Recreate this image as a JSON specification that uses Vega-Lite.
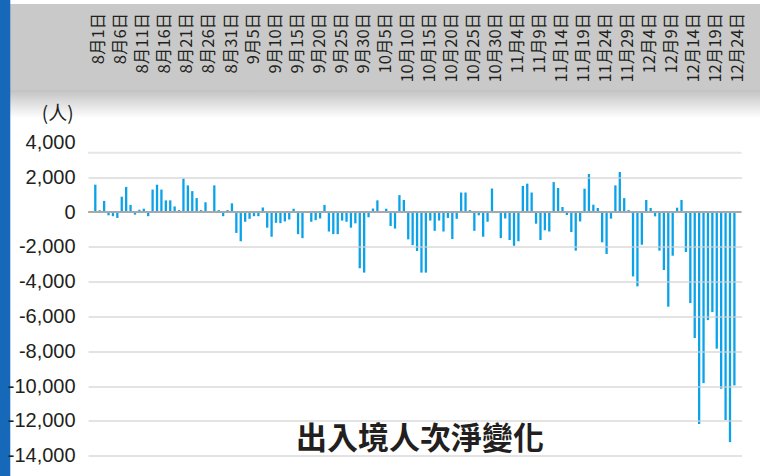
{
  "$schema": "https://vega.github.io/schema/vega-lite/v6.json",
  "autosize": {"type": "none"},
  "padding": {"left": 88.1, "top": 142.4, "right": 18.4, "bottom": 20.3},
  "width": 653.5,
  "height": 313.3,
  "background": "#ffffff",
  "config": {
    "view": {"stroke": null},
    "axis": {"labelOverlap": false, "labelBound": false, "labelFlush": false}
  },
  "layer": [
    {
      "data": {"values": [
        {"d": "2020-08-01", "v": 1570}, {"d": "2020-08-02", "v": 100}, {"d": "2020-08-03", "v": 640}, {"d": "2020-08-04", "v": -190}, {"d": "2020-08-05", "v": -240}, {"d": "2020-08-06", "v": -340}, {"d": "2020-08-07", "v": 880}, {"d": "2020-08-08", "v": 1440}, {"d": "2020-08-09", "v": 410}, {"d": "2020-08-10", "v": -150},
        {"d": "2020-08-11", "v": 130}, {"d": "2020-08-12", "v": 190}, {"d": "2020-08-13", "v": -240}, {"d": "2020-08-14", "v": 1290}, {"d": "2020-08-15", "v": 1570}, {"d": "2020-08-16", "v": 1290}, {"d": "2020-08-17", "v": 670}, {"d": "2020-08-18", "v": 670}, {"d": "2020-08-19", "v": 320}, {"d": "2020-08-20", "v": 110},
        {"d": "2020-08-21", "v": 1925}, {"d": "2020-08-22", "v": 1530}, {"d": "2020-08-23", "v": 1200}, {"d": "2020-08-24", "v": 800}, {"d": "2020-08-25", "v": 110}, {"d": "2020-08-26", "v": 560}, {"d": "2020-08-27", "v": -30}, {"d": "2020-08-28", "v": 1530}, {"d": "2020-08-29", "v": 110}, {"d": "2020-08-30", "v": -240},
        {"d": "2020-08-31", "v": 110},
        {"d": "2020-09-01", "v": 500}, {"d": "2020-09-02", "v": -1200}, {"d": "2020-09-03", "v": -1680}, {"d": "2020-09-04", "v": -560}, {"d": "2020-09-05", "v": -390}, {"d": "2020-09-06", "v": -240}, {"d": "2020-09-07", "v": -240}, {"d": "2020-09-08", "v": 260}, {"d": "2020-09-09", "v": -900}, {"d": "2020-09-10", "v": -1420},
        {"d": "2020-09-11", "v": -620}, {"d": "2020-09-12", "v": -640}, {"d": "2020-09-13", "v": -540}, {"d": "2020-09-14", "v": -430}, {"d": "2020-09-15", "v": 190}, {"d": "2020-09-16", "v": -1270}, {"d": "2020-09-17", "v": -1500}, {"d": "2020-09-18", "v": -30}, {"d": "2020-09-19", "v": -560}, {"d": "2020-09-20", "v": -470},
        {"d": "2020-09-21", "v": -370}, {"d": "2020-09-22", "v": 410}, {"d": "2020-09-23", "v": -1120}, {"d": "2020-09-24", "v": -1270}, {"d": "2020-09-25", "v": -1270}, {"d": "2020-09-26", "v": -490}, {"d": "2020-09-27", "v": -560}, {"d": "2020-09-28", "v": -900}, {"d": "2020-09-29", "v": -650}, {"d": "2020-09-30", "v": -3230},
        {"d": "2020-10-01", "v": -3480}, {"d": "2020-10-02", "v": -300}, {"d": "2020-10-03", "v": 200}, {"d": "2020-10-04", "v": 670}, {"d": "2020-10-05", "v": 30}, {"d": "2020-10-06", "v": 190}, {"d": "2020-10-07", "v": -800}, {"d": "2020-10-08", "v": -950}, {"d": "2020-10-09", "v": 970}, {"d": "2020-10-10", "v": 690},
        {"d": "2020-10-11", "v": -1570}, {"d": "2020-10-12", "v": -1900}, {"d": "2020-10-13", "v": -2240}, {"d": "2020-10-14", "v": -3480}, {"d": "2020-10-15", "v": -3480}, {"d": "2020-10-16", "v": -490}, {"d": "2020-10-17", "v": -1080}, {"d": "2020-10-18", "v": -490}, {"d": "2020-10-19", "v": -1120}, {"d": "2020-10-20", "v": -340},
        {"d": "2020-10-21", "v": -1550}, {"d": "2020-10-22", "v": -390}, {"d": "2020-10-23", "v": 1120}, {"d": "2020-10-24", "v": 1120}, {"d": "2020-10-25", "v": 110}, {"d": "2020-10-26", "v": -1080}, {"d": "2020-10-27", "v": -190}, {"d": "2020-10-28", "v": -1420}, {"d": "2020-10-29", "v": -560}, {"d": "2020-10-30", "v": 1350},
        {"d": "2020-10-31", "v": -60},
        {"d": "2020-11-01", "v": -1500}, {"d": "2020-11-02", "v": -370}, {"d": "2020-11-03", "v": -1610}, {"d": "2020-11-04", "v": -1940}, {"d": "2020-11-05", "v": -1680}, {"d": "2020-11-06", "v": 1500}, {"d": "2020-11-07", "v": 1630}, {"d": "2020-11-08", "v": 1120}, {"d": "2020-11-09", "v": -670}, {"d": "2020-11-10", "v": -1610},
        {"d": "2020-11-11", "v": -1050}, {"d": "2020-11-12", "v": -1120}, {"d": "2020-11-13", "v": 1720}, {"d": "2020-11-14", "v": 1380}, {"d": "2020-11-15", "v": 290}, {"d": "2020-11-16", "v": -170}, {"d": "2020-11-17", "v": -1150}, {"d": "2020-11-18", "v": -2220}, {"d": "2020-11-19", "v": -540}, {"d": "2020-11-20", "v": 1340},
        {"d": "2020-11-21", "v": 2180}, {"d": "2020-11-22", "v": 420}, {"d": "2020-11-23", "v": 230}, {"d": "2020-11-24", "v": -1740}, {"d": "2020-11-25", "v": -2410}, {"d": "2020-11-26", "v": -380}, {"d": "2020-11-27", "v": 1530}, {"d": "2020-11-28", "v": 2300}, {"d": "2020-11-29", "v": 800}, {"d": "2020-11-30", "v": 110},
        {"d": "2020-12-01", "v": -3700}, {"d": "2020-12-02", "v": -4270}, {"d": "2020-12-03", "v": -1880}, {"d": "2020-12-04", "v": 690}, {"d": "2020-12-05", "v": 230}, {"d": "2020-12-06", "v": -250}, {"d": "2020-12-07", "v": -2220}, {"d": "2020-12-08", "v": -3330}, {"d": "2020-12-09", "v": -5440}, {"d": "2020-12-10", "v": -2510},
        {"d": "2020-12-11", "v": 250}, {"d": "2020-12-12", "v": 690}, {"d": "2020-12-13", "v": -2300}, {"d": "2020-12-14", "v": -5230}, {"d": "2020-12-15", "v": -7240}, {"d": "2020-12-16", "v": -12180}, {"d": "2020-12-17", "v": -9830}, {"d": "2020-12-18", "v": -6210}, {"d": "2020-12-19", "v": -5750}, {"d": "2020-12-20", "v": -7850},
        {"d": "2020-12-21", "v": -10150}, {"d": "2020-12-22", "v": -11950}, {"d": "2020-12-23", "v": -13220}, {"d": "2020-12-24", "v": -9960}
      ]},
      "mark": {"type": "bar", "width": 2.3, "color": "#0aa2e8"},
      "encoding": {
        "x": {
          "field": "d", "type": "temporal",
          "scale": {"type": "utc", "nice": false, "domain": [{"year": 2020, "month": 7, "date": 31, "hours": 12, "utc": true}, {"year": 2020, "month": 12, "date": 24, "hours": 12, "utc": true}]},
          "axis": {
            "orient": "top",
            "title": null,
            "tickCount": 200,
            "values": [
              {"year": 2020, "month": 8, "date": 1, "utc": true}, {"year": 2020, "month": 8, "date": 6, "utc": true}, {"year": 2020, "month": 8, "date": 11, "utc": true}, {"year": 2020, "month": 8, "date": 16, "utc": true}, {"year": 2020, "month": 8, "date": 21, "utc": true}, {"year": 2020, "month": 8, "date": 26, "utc": true}, {"year": 2020, "month": 8, "date": 31, "utc": true},
              {"year": 2020, "month": 9, "date": 5, "utc": true}, {"year": 2020, "month": 9, "date": 10, "utc": true}, {"year": 2020, "month": 9, "date": 15, "utc": true}, {"year": 2020, "month": 9, "date": 20, "utc": true}, {"year": 2020, "month": 9, "date": 25, "utc": true}, {"year": 2020, "month": 9, "date": 30, "utc": true},
              {"year": 2020, "month": 10, "date": 5, "utc": true}, {"year": 2020, "month": 10, "date": 10, "utc": true}, {"year": 2020, "month": 10, "date": 15, "utc": true}, {"year": 2020, "month": 10, "date": 20, "utc": true}, {"year": 2020, "month": 10, "date": 25, "utc": true}, {"year": 2020, "month": 10, "date": 30, "utc": true},
              {"year": 2020, "month": 11, "date": 4, "utc": true}, {"year": 2020, "month": 11, "date": 9, "utc": true}, {"year": 2020, "month": 11, "date": 14, "utc": true}, {"year": 2020, "month": 11, "date": 19, "utc": true}, {"year": 2020, "month": 11, "date": 24, "utc": true}, {"year": 2020, "month": 11, "date": 29, "utc": true},
              {"year": 2020, "month": 12, "date": 4, "utc": true}, {"year": 2020, "month": 12, "date": 9, "utc": true}, {"year": 2020, "month": 12, "date": 14, "utc": true}, {"year": 2020, "month": 12, "date": 19, "utc": true}, {"year": 2020, "month": 12, "date": 24, "utc": true}
            ],
            "labelExpr": "(utcmonth(datum.value) + 1) + '月' + utcdate(datum.value) + '日'",
            "labelAngle": 270,
            "labelAlign": "right",
            "labelBaseline": "middle",
            "labelPadding": 130,
            "labelOffset": 3.5,
            "labelFont": "Noto Sans CJK TC",
            "labelFontSize": 16.5,
            "labelColor": "#231f20",
            "labelOverlap": false,
            "ticks": false,
            "tickSize": 0,
            "domain": false,
            "grid": false,
            "zindex": 2
          }
        },
        "y": {
          "field": "v", "type": "quantitative",
          "scale": {"domain": [-14000, 4000], "nice": false},
          "axis": {
            "tickCount": 100,
            "values": [-14000, -12000, -10000, -8000, -6000, -4000, -2000, 0, 2000, 4000],
            "labelExpr": "replace(format(datum.value, ',.0f'), '−', '-')",
            "labelOverlap": false,
            "labelFont": "Liberation Sans",
            "labelFontSize": 20,
            "labelColor": "#231f20",
            "labelPadding": 13,
            "ticks": false,
            "tickSize": 0,
            "domain": false,
            "grid": true,
            "gridColor": "#d0d0d0",
            "gridWidth": 2,
            "gridOpacity": {"condition": {"test": "datum.value === 0 || datum.value === 4000", "value": 0}, "value": 0.6},
            "title": "(人)",
            "titleAngle": 0,
            "titleAlign": "right",
            "titleBaseline": "middle",
            "titleX": -15,
            "titleY": -29,
            "titleFont": "Noto Sans CJK TC",
            "titleFontSize": 19,
            "titleFontWeight": "normal",
            "titleColor": "#231f20",
            "zindex": 1
          }
        }
      }
    },
    {
      "data": {"values": [{}]},
      "mark": {"type": "rect", "fill": "#c9c9c9"},
      "encoding": {
        "x": {"datum": {"year": 2020, "month": 7, "date": 1, "utc": true}, "type": "temporal"},
        "x2": {"datum": {"year": 2021, "month": 1, "date": 31, "utc": true}},
        "y": {"datum": 11950, "type": "quantitative"},
        "y2": {"datum": 7009}
      }
    },
    {
      "data": {"values": [{}]},
      "mark": {"type": "rect", "fill": {"gradient": "linear", "x1": 0, "y1": 0, "x2": 0, "y2": 1, "stops": [{"offset": 0, "color": "#c2c2c2"}, {"offset": 1, "color": "#ffffff"}]}},
      "encoding": {
        "x": {"datum": {"year": 2020, "month": 7, "date": 1, "utc": true}, "type": "temporal"},
        "x2": {"datum": {"year": 2021, "month": 1, "date": 31, "utc": true}},
        "y": {"datum": 7009, "type": "quantitative"},
        "y2": {"datum": 5400}
      }
    },
    {
      "data": {"values": [{}]},
      "mark": {"type": "rect", "fill": "#1668b8"},
      "encoding": {
        "x": {"datum": {"year": 2020, "month": 7, "date": 1, "utc": true}, "type": "temporal"},
        "x2": {"datum": {"year": 2020, "month": 7, "date": 12, "hours": 17, "utc": true}},
        "y": {"datum": 20000, "type": "quantitative"},
        "y2": {"datum": -20000}
      }
    },
    {
      "data": {"values": [{}]},
      "mark": {"type": "rule", "color": "#e6e6e6", "strokeWidth": 2},
      "encoding": {"y": {"datum": 3400, "type": "quantitative"}}
    },
    {
      "data": {"values": [{}]},
      "mark": {"type": "rule", "color": "#a8a8a8", "strokeWidth": 2},
      "encoding": {"y": {"datum": 0, "type": "quantitative"}}
    },
    {
      "data": {"values": [{}]},
      "mark": {"type": "text", "align": "center", "baseline": "middle", "font": "Noto Sans CJK TC", "fontSize": 31, "fontWeight": "bold", "fill": "#231f20"},
      "encoding": {
        "x": {"datum": {"year": 2020, "month": 10, "date": 13, "hours": 16, "utc": true}, "type": "temporal"},
        "y": {"datum": -13100, "type": "quantitative"},
        "text": {"value": "出入境人次淨變化"}
      }
    }
  ]
}
